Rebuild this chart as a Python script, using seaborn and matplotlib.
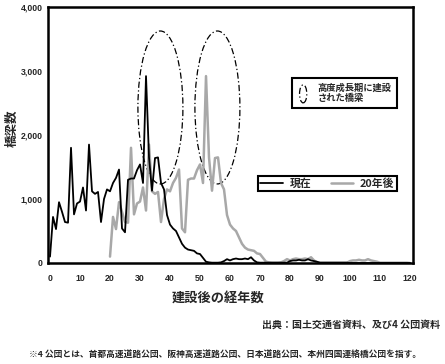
import numpy as np
import pandas as pd
import seaborn as sns
import matplotlib
matplotlib.use("Agg")
import matplotlib.pyplot as plt
from matplotlib.patches import Ellipse
from matplotlib.lines import Line2D
from matplotlib.legend_handler import HandlerPatch

# Bridge counts by years since construction
years = list(range(0, 121))
counts_now = [
    100, 720, 530, 950, 800, 640, 630, 1800, 760, 930,
    960, 1180, 820, 1850, 1120, 1080, 1110, 640, 1000, 1150,
    1120, 1250, 1330, 1460, 540, 480, 1300, 1320, 1320, 1450,
    1540, 1250, 2920, 1650, 1130, 1640, 1650, 1250, 1150, 750,
    600, 540, 500, 400, 300, 240, 210, 200, 190, 150,
    140, 80, 20, 10, 5, 5, 5, 10, 30, 60,
    40, 60, 70, 60, 60, 70, 60, 90, 40, 10,
    5, 5, 5, 5, 5, 5, 5, 5, 5, 5,
    30, 40, 40, 50, 40, 40, 60, 40, 30, 20,
    5, 5, 5, 5, 5, 5, 5, 5, 5, 5,
    0, 0, 0, 0, 0, 0, 0, 0, 0, 0,
    0, 0, 0, 0, 0, 0, 0, 0, 0, 0, 0,
]
# 20 years later: the same bridges, 20 years older
shift = 20
years_future = [y + shift for y in years if y + shift <= 120]
counts_future = counts_now[:len(years_future)]

now_df = pd.DataFrame({"year": years, "count": counts_now})
future_df = pd.DataFrame({"year": years_future, "count": counts_future})

# high growth period ellipses
ellipse_centers = [36.8, 55.8]
ellipse_y = 2430
ellipse_w = 15
ellipse_h = 2390

x_ticks = list(range(0, 121, 10))
y_ticks = [0, 1000, 2000, 3000, 4000]

sns.set_style("white")
plt.rcParams["font.family"] = ["Noto Sans CJK JP", "DejaVu Sans"]

fig = plt.figure(figsize=(4.45, 3.64), dpi=100)
ax = fig.add_axes([48 / 445, 1 - 263 / 364, 365 / 445, 256 / 364])

sns.lineplot(data=future_df, x="year", y="count", color="#a8a8a8", linewidth=1.8, ax=ax)
sns.lineplot(data=now_df, x="year", y="count", color="black", linewidth=1.3, ax=ax)

dash = (0, (5, 2, 1, 2))
for cx in ellipse_centers:
    ax.add_patch(Ellipse((cx, ellipse_y), ellipse_w, ellipse_h, fill=False,
                         edgecolor="black", linewidth=0.9, linestyle=dash))

ax.set_xlim(-0.67, 121)
ax.set_ylim(0, 4000)
ax.set_xticks(x_ticks)
ax.set_yticks(y_ticks)
tick_font = {"family": "Liberation Sans", "size": 6.3, "weight": "bold"}
ax.set_xticklabels([str(t) for t in x_ticks], fontdict=tick_font)
ax.set_yticklabels([f"{t:,}" for t in y_ticks], fontdict=tick_font)
ax.tick_params(axis="both", direction="in", length=3, width=1, color="black")
ax.tick_params(axis="x", pad=8)
ax.tick_params(axis="y", pad=4)
for s in ax.spines.values():
    s.set_color("black")
    s.set_linewidth(1.8)
ax.set_xlabel("")
ax.set_ylabel("")

fig.text(12 / 445, 1 - 128 / 364, "橋梁数", rotation=90, fontsize=9, fontweight="bold",
         ha="center", va="center")
fig.text(218 / 445, 1 - 298 / 364, "建設後の経年数", fontsize=9.5, fontweight="bold",
         ha="center", va="center")
fig.text(440 / 445, 1 - 325 / 364, "出典：国土交通省資料、及び4 公団資料", fontsize=7.2,
         fontweight="bold", ha="right", va="center")
fig.text(225 / 445, 1 - 354 / 364,
         "※4 公団とは、首都高速道路公団、阪神高速道路公団、日本道路公団、本州四国連絡橋公団を指す。",
         fontsize=6.3, fontweight="bold", ha="center", va="center")


def make_ellipse(legend, orig_handle, xdescent, ydescent, width, height, fontsize):
    cx = 0.5 * width - xdescent
    cy = 0.5 * height - ydescent
    return Ellipse((cx, cy), width * 0.6, height * 1.0, fill=False)


ell_handle = Ellipse((0, 0), 1, 1, fill=False, edgecolor="black", linewidth=0.9, linestyle=dash)
leg1 = ax.legend([ell_handle], ["高度成長期に建設\nされた橋梁"],
                 handler_map={Ellipse: HandlerPatch(patch_func=make_ellipse)},
                 loc="upper left", bbox_to_anchor=(292 / 445, 1 - 78 / 364),
                 bbox_transform=fig.transFigure, borderaxespad=0, fancybox=False,
                 framealpha=1, edgecolor="black", prop={"size": 6.7, "weight": "bold"},
                 handlelength=1.3, handleheight=2.6, handletextpad=0.9, borderpad=0.55)
leg1.get_frame().set_linewidth(1.5)
ax.add_artist(leg1)

line_handles = [Line2D([], [], color="black", linewidth=1.3),
                Line2D([], [], color="#a8a8a8", linewidth=1.8)]
leg2 = ax.legend(line_handles, ["現在", "20年後"], ncol=2,
                 loc="upper left", bbox_to_anchor=(258 / 445, 1 - 176 / 364),
                 bbox_transform=fig.transFigure, borderaxespad=0, fancybox=False,
                 framealpha=1, edgecolor="black", prop={"size": 7.8, "weight": "bold"},
                 handlelength=2.1, handletextpad=0.6, columnspacing=1.8, borderpad=0.2)
leg2.get_frame().set_linewidth(1.5)

fig.savefig("out.png", dpi=100)
